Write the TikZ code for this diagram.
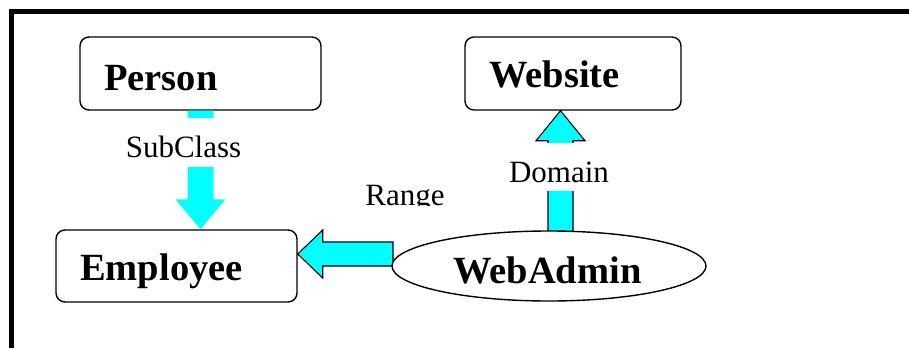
\documentclass[tikz,border=0pt]{standalone}
\usepackage{fontspec}
\setmainfont{Liberation Serif}
\usetikzlibrary{calc,shapes.geometric}
\definecolor{aqua}{RGB}{0,255,255}
\begin{document}
\begin{tikzpicture}[x=1pt,y=-1pt,
  classbox/.style={draw, line width=1.4pt, rounded corners=9pt, fill=white, inner sep=0pt},
  propnode/.style={draw, ellipse, line width=1.4pt, fill=white, inner sep=0pt},
  bigtext/.style={inner sep=0pt, anchor=base west, font=\fontsize{38.5}{40}\selectfont\bfseries},
  lbl/.style={inner sep=0pt, anchor=base, font=\fontsize{31}{33}\selectfont},
  plainarrow/.style={fill=aqua},
  edgearrow/.style={fill=aqua, draw=black, line width=1.1pt, line join=miter}]

\useasboundingbox (0,0) rectangle (909,348);
\fill[white] (0,0) rectangle (909,348);

% heavy frame along the top and left
\fill[black] (9,9) rectangle (909,14);
\fill[black] (9,9) rectangle (14,348);

% classes and property
\node[classbox, minimum width=241pt, minimum height=73pt] (person) at (200.5,73.5) {};
\node[classbox, minimum width=216pt, minimum height=73pt] (website) at (573,73.5) {};
\node[classbox, minimum width=241pt, minimum height=72pt] (employee) at (176.5,266) {};

% anchor points of the three connectors
\coordinate (sc-from) at (person.south);
\coordinate (sc-to) at (person.south |- employee.north);
\coordinate (d-to) at (560.5,0 |- website.south);
\coordinate (d-from) at ($(560.5,0 |- 0,231)+(0,2)$);
\coordinate (r-to) at ($(employee.east)+(0,-12)$);
\coordinate (r-from) at (393,0 |- r-to);

% SubClass: Person -> Employee
\fill[plainarrow] ($(sc-from)+(-13,0)$) -- ($(sc-from)+(13,0)$)
  -- ($(sc-to)+(13,-30)$) -- ($(sc-to)+(25,-30)$) -- (sc-to)
  -- ($(sc-to)+(-25,-30)$) -- ($(sc-to)+(-13,-30)$) -- cycle;

% Domain: WebAdmin -> Website
\draw[edgearrow] ($(d-from)+(-12.5,0)$) -- ($(d-to)+(-12.5,30)$)
  -- ($(d-to)+(-24.5,30)$) -- (d-to) -- ($(d-to)+(24.5,30)$)
  -- ($(d-to)+(12.5,30)$) -- ($(d-from)+(12.5,0)$) -- cycle;

% Range: WebAdmin -> Employee
\draw[edgearrow] ($(r-from)+(0,-12)$) -- ($(r-to)+(25,-12)$)
  -- ($(r-to)+(25,-24)$) -- (r-to) -- ($(r-to)+(25,24)$)
  -- ($(r-to)+(25,12)$) -- ($(r-from)+(0,12)$) -- cycle;

\node[propnode, minimum width=314pt, minimum height=70pt] (webadmin) at (549,266) {};

% class and property names
\node[bigtext] (person-t) at (104,90) {Person};
\node[bigtext] (website-t) at (489,87.5) {Website};
\node[bigtext] (employee-t) at (80,280) {Employee};
\node[bigtext] (webadmin-t) at (453,283) {WebAdmin};

% connector labels
\node[lbl, fill=white, text height=39pt, text depth=10pt] (subclass-l) at (183.5,157) {SubClass};
\node[lbl, fill=white, text height=39pt, text depth=9pt] (domain-l) at (559,182) {Domain};
\begin{scope}
  \clip (330,170) rectangle (480,205.5);
  \node[lbl] (range-l) at (405,205) {Range};
\end{scope}
\end{tikzpicture}
\end{document}
